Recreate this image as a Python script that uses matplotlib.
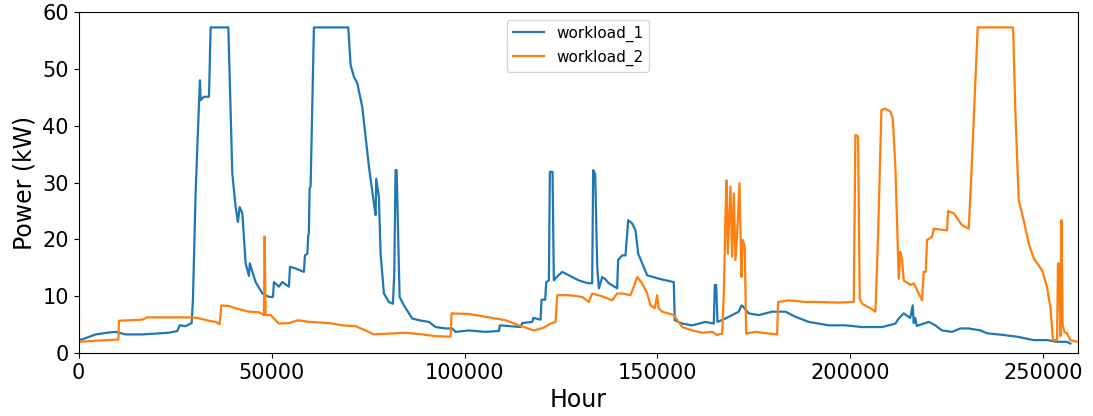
import matplotlib
matplotlib.use('Agg')
import matplotlib.pyplot as plt
import numpy as np

# workload_1 (hours, kW)
hours_1 = [0, 780, 4400, 7430, 9590, 12180, 16500, 23400, 25560, 26170, 27700, 29270,
           29600, 30300, 31170, 31430, 31600, 32470, 33760, 34200, 38780, 39810, 40670,
           41270, 41710, 42410, 43260, 44130, 44350, 45860, 47590, 49300, 50340, 50600,
           51890, 52760, 54490, 54750, 56220, 58370, 58630, 59250, 59500, 59640, 59850,
           60100, 60960, 69860, 70470, 71330, 72200, 73490, 75220, 76510, 76950, 77110,
           77800, 78240, 79100, 80390, 81430, 81780, 82120, 82400, 82820, 83160, 84280,
           86440, 88160, 90750, 92490, 95080, 96800, 97670, 101100, 105440, 108900,
           109150, 114500, 114950, 117540, 117800, 119700, 119950, 120900, 121160,
           121850, 122110, 122800, 123140, 123600, 125300, 127000, 129600, 132030,
           133070, 133330, 133850, 134380, 134810, 135670, 136500, 137390, 139540,
           139800, 140830, 141710, 142400, 143440, 144300, 145000, 146030, 147330,
           150340, 154220, 154480, 156400, 158990, 162440, 164590, 164850, 165200,
           165550, 167620, 171070, 171760, 172200, 173650, 176240, 179710, 183160,
           185760, 189200, 194380, 198700, 203030, 208200, 211650, 212520, 213810,
           215500, 216140, 216400, 216800, 217200, 220300, 222000, 223750, 226340,
           228500, 230650, 233700, 235400, 239700, 243200, 247500, 251000, 253550,
           256140, 257000]
power_1 = [2.4, 2.4, 3.3, 3.6, 3.75, 3.3, 3.3, 3.6, 3.9, 4.9, 4.75, 5.3,
           9.3, 28.1, 43.9, 48.0, 44.5, 45.1, 45.1, 57.3, 57.3, 31.6, 25.7,
           23.1, 25.7, 24.6, 15.8, 13.6, 15.8, 12.5, 10.5, 9.9, 9.9, 12.5,
           11.7, 12.5, 11.7, 15.2, 14.9, 14.3, 17.2, 17.5, 20.8, 21.0, 29.0,
           29.3, 57.3, 57.3, 50.7, 48.6, 47.5, 43.3, 32.8, 26.3, 24.3, 30.7,
           27.5, 17.5, 10.5, 9.0, 8.7, 14.0, 32.2, 32.2, 19.9, 9.9, 8.4,
           6.1, 5.8, 5.5, 4.6, 4.35, 4.35, 3.75, 4.0, 3.75, 3.9,
           4.9, 4.6, 5.3, 5.5, 6.2, 5.9, 9.4, 9.4, 12.5,
           12.8, 31.9, 31.9, 12.8, 13.2, 14.3, 13.7, 12.8, 12.3,
           12.3, 32.2, 31.5, 15.2, 11.4, 13.4, 13.0, 12.3, 11.4,
           16.4, 17.2, 17.2, 23.4, 22.8, 21.6, 17.5, 15.8, 13.7,
           13.1, 12.5, 5.8, 5.2, 4.9, 5.5, 5.2, 12.0, 12.0,
           5.5, 6.1, 7.3, 8.4, 8.2, 7.0, 6.7, 7.3, 7.3,
           6.4, 5.5, 4.9, 4.9, 4.6, 4.6, 5.2, 6.1, 7.0,
           6.2, 8.4, 5.3, 6.2, 4.8, 5.5, 4.9, 4.0, 3.75,
           4.35, 4.35, 4.0, 3.5, 3.2, 2.9, 2.3, 2.3, 2.0,
           2.0, 1.7]

# workload_2 (hours, kW)
hours_2 = [0, 4400, 10280, 10450, 16500, 17800, 25990, 29010, 30750, 33760, 35490,
           36530, 36960, 38940, 40670, 44130, 46720, 48000, 48190, 48450, 49740, 51890,
           54490, 56900, 59670, 64850, 68300, 71760, 74350, 76510, 80390, 84710, 89040,
           92490, 96370, 96630, 101100, 105440, 110620, 114070, 117970, 120550, 122280,
           123580, 124010, 127000, 130500, 132200, 133070, 135670, 138260, 139540,
           140830, 143000, 143870, 144730, 146030, 147330, 148190, 149300, 149920,
           150300, 151210, 154220, 156400, 158990, 161580, 164160, 165460, 166760,
           167190, 167620, 167880, 168220, 168910, 169340, 169770, 170200, 170640,
           171240, 171760, 172100, 172620, 172970, 175390, 178840, 181000, 181260,
           184010, 188350, 191800, 196970, 200860, 201290, 201980, 202410, 203030,
           205180, 206480, 207180, 208030, 209070, 210360, 210970, 211650, 212520,
           212950, 213380, 213810, 215540, 216400, 217690, 218560, 218990, 219500,
           219870, 221170, 221600, 225050, 225310, 226780, 228940, 230650, 231270,
           232990, 242150, 242740, 243610, 244900, 246200, 247500, 249650, 250940,
           251820, 252500, 253550, 253800, 254100, 254400, 254700, 255000, 255440,
           256140, 257000, 258900]
power_2 = [2.0, 2.2, 2.4, 5.7, 5.9, 6.3, 6.3, 6.3, 6.2, 5.7, 5.5,
           5.1, 8.4, 8.3, 7.9, 7.3, 7.2, 6.7, 20.5, 6.7, 6.7, 5.2,
           5.3, 5.8, 5.5, 5.3, 4.9, 4.75, 4.0, 3.3, 3.45, 3.6, 3.3,
           3.0, 2.9, 7.0, 6.9, 6.4, 5.8, 4.9, 4.0, 4.5, 5.2,
           5.5, 10.2, 10.2, 9.9, 9.0, 10.5, 10.0, 9.3, 10.5,
           10.5, 10.2, 11.7, 13.4, 12.3, 10.5, 8.4, 7.9, 10.2,
           7.9, 7.3, 6.7, 4.6, 4.0, 3.6, 3.75, 3.2, 3.45,
           10.5, 24.0, 30.4, 17.5, 29.3, 17.0, 28.1, 16.4, 21.0,
           29.9, 13.4, 19.9, 18.7, 3.45, 3.75, 3.45, 3.3, 9.0,
           9.3, 9.0, 9.0, 8.9, 9.0, 38.4, 38.1, 9.6, 8.7,
           7.9, 7.3, 21.0, 42.8, 43.0, 42.5, 41.3, 32.8, 13.1,
           17.8, 16.4, 12.8, 12.0, 12.3, 10.5, 9.3, 14.3, 14.3,
           19.9, 20.5, 21.9, 21.6, 25.0, 24.6, 22.5, 21.9, 30.4,
           57.3, 57.3, 42.8, 26.9, 23.4, 19.3, 16.7, 14.6, 11.7,
           8.1, 2.3, 2.3, 15.8, 15.8, 3.0, 23.4, 5.0, 3.75,
           3.45, 2.3, 2.0]

fig = plt.figure(figsize=(10.93, 4.16), dpi=100)
ax = fig.add_subplot(111)
fig.subplots_adjust(left=0.072, right=0.986, bottom=0.151, top=0.971)

ax.plot(hours_1, power_1, label='workload_1', linewidth=1.6)
ax.plot(hours_2, power_2, label='workload_2', linewidth=1.6)

ax.set_xlim(0, max(hours_2))
ax.set_ylim(0, 60)
ax.set_xlabel('Hour', fontsize=17)
ax.set_ylabel('Power (kW)', fontsize=17)
ax.tick_params(labelsize=15)
ax.legend(loc='upper center', fontsize=11)

fig.savefig('out.png', dpi=100)
